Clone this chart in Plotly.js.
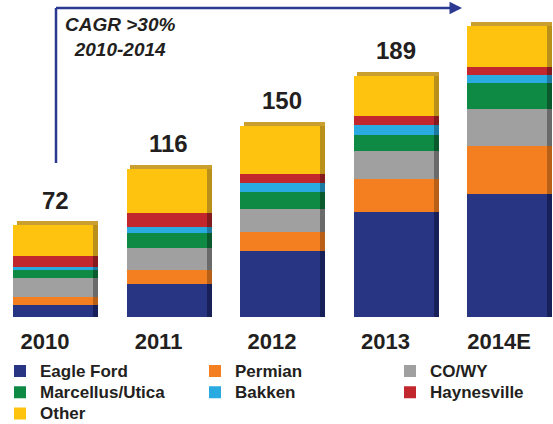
<!DOCTYPE html>
<html>
<head>
<meta charset="utf-8">
<script src="https://cdn.plot.ly/plotly-3.0.1.min.js"></script>
<style>
  body { margin: 0; background: #fff; }
  #chart { width: 553px; height: 424px; }
</style>
</head>
<body>
<div id="chart"></div>
<script>
// rig counts by play, stacked per year
var years = ["2010", "2011", "2012", "2013", "2014E"];
var totalLabels = ["72", "116", "150", "189", ""];

var eagleFord   = [9.6, 25.9, 51.5, 82.5, 96.1];
var permian     = [6.0, 11.1, 15.5, 25.9, 38.2];
var coWy        = [15.0, 17.3, 18.0, 21.6, 29.0];
var marcellus   = [6.0, 11.8, 12.8, 12.7, 20.3];
var bakken      = [2.2, 4.7, 7.3, 7.9, 6.0];
var haynesville = [9.1, 11.1, 7.0, 6.7, 6.6];
var other       = [24.1, 34.1, 37.9, 31.7, 31.6];

var seriesNames  = ["Eagle Ford", "Permian", "CO/WY", "Marcellus/Utica", "Bakken", "Haynesville", "Other"];
var seriesValues = [eagleFord, permian, coWy, marcellus, bakken, haynesville, other];
var seriesColors = ["#283583", "#f47f20", "#a0a0a0", "#0f8a45", "#29abe2", "#c1272d", "#fdc30f"];
var sideColors   = ["#18205a", "#b85f18", "#6a6a6a", "#0a5a2e", "#1c7aa3", "#861b1f", "#b8901a"];
var legendFor    = ["legend", "legend2", "legend3", "legend", "legend2", "legend3", "legend"];

var barWidth = 0.705;
var sideWidth = 0.045;
var capHeight = 3.1;  // thickness of the 3d top face, in axis units
var dark = "#231f20";
var H = 424;          // figure height, the plot fills all of it
var baseY = 317;      // pixel row of the bar baseline
var pxPerUnit = 1.276;

var data = [];

// front faces
seriesValues.forEach(function(vals, i) {
    data.push({
        x: years,
        y: vals,
        name: '<span style="font-size:17px">' + seriesNames[i] + '</span>',
        type: "bar",
        width: barWidth,
        marker: {color: seriesColors[i], line: {width: 0}},
        legend: legendFor[i],
        hoverinfo: "y"
    });
});

// darker side faces, drawn on an overlaid axis so they stack on their own
seriesValues.forEach(function(vals, i) {
    data.push({
        x: years,
        y: vals,
        type: "bar",
        xaxis: "x2",
        width: sideWidth,
        offset: barWidth / 2,
        marker: {color: sideColors[i], line: {width: 0}},
        showlegend: false,
        hoverinfo: "skip"
    });
});

// top face sits on the stacked side faces
data.push({
    x: years,
    y: years.map(function() { return capHeight; }),
    type: "bar",
    xaxis: "x2",
    width: barWidth + sideWidth - 0.035,
    offset: -barWidth / 2 + 0.035,
    marker: {color: "#c9a030", line: {width: 0}},
    showlegend: false,
    hoverinfo: "skip"
});

var totals = years.map(function(y, j) {
    return seriesValues.reduce(function(s, vals) { return s + vals[j]; }, 0);
});

var annotations = years.map(function(y, j) {
    return {
        x: j, y: totals[j], xref: "x", yref: "y",
        text: totalLabels[j],
        showarrow: false,
        yanchor: "middle",
        yshift: 25,
        xshift: 2,
        font: {family: "Liberation Sans, Arial", size: 24, color: dark, weight: "bold"}
    };
});

annotations.push({
    x: 120 / 553, y: 1 - 36.5 / H, xref: "paper", yref: "paper",
    xanchor: "center", yanchor: "middle",
    text: "CAGR >30%<br>2010-2014",
    showarrow: false,
    align: "center",
    font: {family: "Liberation Sans, Arial", size: 19, color: dark, weight: "bold", style: "italic"}
});

// arrow head at the end of the growth line
annotations.push({
    x: 462 / 553, y: 1 - 8 / H, xref: "paper", yref: "paper",
    text: "",
    showarrow: true,
    ax: -12, ay: 0,
    arrowhead: 2, arrowsize: 1, arrowwidth: 2.5,
    arrowcolor: "#2b3990"
});

var legendBase = {
    orientation: "v",
    traceorder: "normal",
    yanchor: "top",
    y: 1 - 355.5 / H,
    bgcolor: "rgba(0,0,0,0)",
    font: {family: "Liberation Sans, Arial", size: 14, color: dark, weight: "bold"},
    itemwidth: 30
};

var layout = {
    width: 553,
    height: H,
    margin: {l: 0, r: 0, t: 0, b: 0, autoexpand: false},
    paper_bgcolor: "#ffffff",
    plot_bgcolor: "#ffffff",
    barmode: "stack",
    showlegend: true,
    xaxis: {
        type: "category",
        range: [-0.467, 4.405],
        anchor: "free",
        position: (H - baseY) / H,
        showgrid: false, zeroline: false, showline: false, ticks: "",
        tickfont: {family: "Liberation Sans, Arial", size: 22, color: dark, weight: "bold"},
        ticklabelstandoff: 9,
        ticklabelshift: -8
    },
    xaxis2: {
        type: "category",
        overlaying: "x", matches: "x",
        visible: false
    },
    yaxis: {
        range: [-(H - baseY) / pxPerUnit, baseY / pxPerUnit],
        visible: false, showgrid: false, zeroline: false
    },
    legend: Object.assign({}, legendBase, {x: 0}),
    legend2: Object.assign({}, legendBase, {x: 195 / 553}),
    legend3: Object.assign({}, legendBase, {x: 390 / 553}),
    annotations: annotations,
    shapes: [
        {type: "line", xref: "paper", yref: "paper",
         x0: 56 / 553, x1: 56 / 553, y0: 1 - 163 / H, y1: 1 - 8 / H,
         line: {color: "#2b3990", width: 2.5}},
        {type: "line", xref: "paper", yref: "paper",
         x0: 56 / 553, x1: 452 / 553, y0: 1 - 8 / H, y1: 1 - 8 / H,
         line: {color: "#2b3990", width: 2.5}}
    ]
};

Plotly.newPlot("chart", data, layout, {displayModeBar: false, staticPlot: true});
</script>
</body>
</html>
